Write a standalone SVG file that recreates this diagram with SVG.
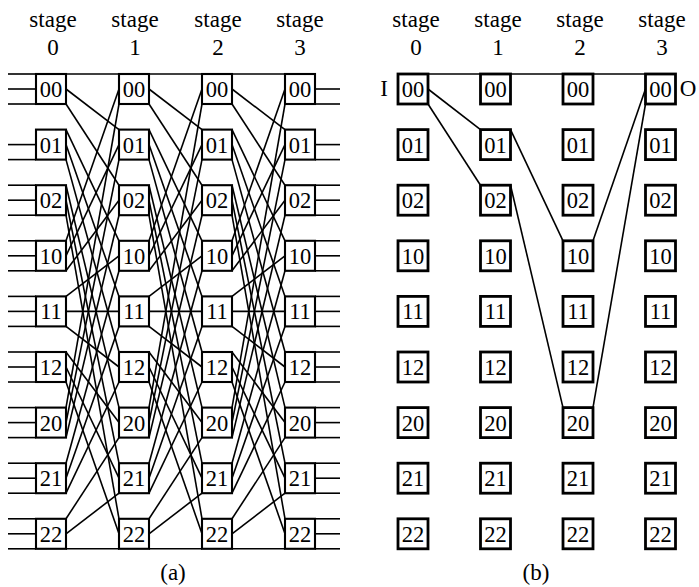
<svg xmlns="http://www.w3.org/2000/svg" width="699" height="587" viewBox="0 0 699 587">
<style>
.bx{fill:#fff;stroke:#000;stroke-width:2.1}
.bxb{fill:#fff;stroke:#000;stroke-width:2.8}
.lb{font-family:"Liberation Serif",serif;font-size:22.5px;text-anchor:middle;fill:#000}
.hd{font-family:"Liberation Serif",serif;font-size:23px;text-anchor:middle;fill:#000}
.ln{stroke:#000;stroke-width:1.6;fill:none}
</style>
<defs>
<g id="shuffle" class="ln">
<line x1="0" y1="74" x2="53" y2="74"/>
<line x1="0" y1="89" x2="53" y2="129.6"/>
<line x1="0" y1="104" x2="53" y2="185.2"/>
<line x1="0" y1="129.6" x2="53" y2="240.8"/>
<line x1="0" y1="144.6" x2="53" y2="296.4"/>
<line x1="0" y1="159.6" x2="53" y2="352"/>
<line x1="0" y1="185.2" x2="53" y2="407.6"/>
<line x1="0" y1="200.2" x2="53" y2="463.2"/>
<line x1="0" y1="215.2" x2="53" y2="518.8"/>
<line x1="0" y1="240.8" x2="53" y2="89"/>
<line x1="0" y1="255.8" x2="53" y2="144.6"/>
<line x1="0" y1="270.8" x2="53" y2="200.2"/>
<line x1="0" y1="296.4" x2="53" y2="255.8"/>
<line x1="0" y1="311.4" x2="53" y2="311.4"/>
<line x1="0" y1="326.4" x2="53" y2="367"/>
<line x1="0" y1="352" x2="53" y2="422.6"/>
<line x1="0" y1="367" x2="53" y2="478.2"/>
<line x1="0" y1="382" x2="53" y2="533.8"/>
<line x1="0" y1="407.6" x2="53" y2="104"/>
<line x1="0" y1="422.6" x2="53" y2="159.6"/>
<line x1="0" y1="437.6" x2="53" y2="215.2"/>
<line x1="0" y1="463.2" x2="53" y2="270.8"/>
<line x1="0" y1="478.2" x2="53" y2="326.4"/>
<line x1="0" y1="493.2" x2="53" y2="382"/>
<line x1="0" y1="518.8" x2="53" y2="437.6"/>
<line x1="0" y1="533.8" x2="53" y2="493.2"/>
<line x1="0" y1="548.8" x2="53" y2="548.8"/>
</g>
</defs>

<g id="headers">
<text class="hd" x="53" y="27">stage</text><text class="hd" x="53" y="55">0</text>
<text class="hd" x="135" y="27">stage</text><text class="hd" x="135" y="55">1</text>
<text class="hd" x="218" y="27">stage</text><text class="hd" x="218" y="55">2</text>
<text class="hd" x="300" y="27">stage</text><text class="hd" x="300" y="55">3</text>
<text class="hd" x="416" y="27">stage</text><text class="hd" x="416" y="55">0</text>
<text class="hd" x="498" y="27">stage</text><text class="hd" x="498" y="55">1</text>
<text class="hd" x="580" y="27">stage</text><text class="hd" x="580" y="55">2</text>
<text class="hd" x="662" y="27">stage</text><text class="hd" x="662" y="55">3</text>
<text class="hd" x="173" y="580">(a)</text>
<text class="hd" x="536" y="580">(b)</text>
<text class="hd" x="384" y="96">I</text>
<text class="hd" x="688" y="96">O</text>
</g>

<g id="connectors">
<use href="#shuffle" x="66"/>
<use href="#shuffle" x="149"/>
<use href="#shuffle" x="232"/>
<g class="ln">
<line x1="8" y1="74" x2="36" y2="74"/><line x1="8" y1="89" x2="36" y2="89"/><line x1="8" y1="104" x2="36" y2="104"/>
<line x1="8" y1="144.6" x2="36" y2="144.6"/><line x1="8" y1="159.6" x2="36" y2="159.6"/>
<line x1="8" y1="185.2" x2="36" y2="185.2"/><line x1="8" y1="200.2" x2="36" y2="200.2"/><line x1="8" y1="215.2" x2="36" y2="215.2"/>
<line x1="8" y1="240.8" x2="36" y2="240.8"/><line x1="8" y1="255.8" x2="36" y2="255.8"/><line x1="8" y1="270.8" x2="36" y2="270.8"/>
<line x1="8" y1="296.4" x2="36" y2="296.4"/><line x1="8" y1="311.4" x2="36" y2="311.4"/><line x1="8" y1="326.4" x2="36" y2="326.4"/>
<line x1="8" y1="352" x2="36" y2="352"/><line x1="8" y1="367" x2="36" y2="367"/><line x1="8" y1="382" x2="36" y2="382"/>
<line x1="8" y1="407.6" x2="36" y2="407.6"/><line x1="8" y1="422.6" x2="36" y2="422.6"/><line x1="8" y1="437.6" x2="36" y2="437.6"/>
<line x1="8" y1="463.2" x2="36" y2="463.2"/><line x1="8" y1="478.2" x2="36" y2="478.2"/><line x1="8" y1="493.2" x2="36" y2="493.2"/>
<line x1="8" y1="518.8" x2="36" y2="518.8"/><line x1="8" y1="533.8" x2="36" y2="533.8"/><line x1="8" y1="548.8" x2="36" y2="548.8"/>

<line x1="315" y1="89" x2="340" y2="89"/><line x1="315" y1="104" x2="340" y2="104"/>
<line x1="315" y1="144.6" x2="340" y2="144.6"/><line x1="315" y1="159.6" x2="340" y2="159.6"/>
<line x1="315" y1="185.2" x2="340" y2="185.2"/><line x1="315" y1="200.2" x2="340" y2="200.2"/><line x1="315" y1="215.2" x2="340" y2="215.2"/>
<line x1="315" y1="240.8" x2="340" y2="240.8"/><line x1="315" y1="255.8" x2="340" y2="255.8"/><line x1="315" y1="270.8" x2="340" y2="270.8"/>
<line x1="315" y1="296.4" x2="340" y2="296.4"/><line x1="315" y1="311.4" x2="340" y2="311.4"/><line x1="315" y1="326.4" x2="340" y2="326.4"/>
<line x1="315" y1="352" x2="340" y2="352"/><line x1="315" y1="367" x2="340" y2="367"/><line x1="315" y1="382" x2="340" y2="382"/>
<line x1="315" y1="407.6" x2="340" y2="407.6"/><line x1="315" y1="422.6" x2="340" y2="422.6"/><line x1="315" y1="437.6" x2="340" y2="437.6"/>
<line x1="315" y1="463.2" x2="340" y2="463.2"/><line x1="315" y1="478.2" x2="340" y2="478.2"/><line x1="315" y1="493.2" x2="340" y2="493.2"/>
<line x1="315" y1="518.8" x2="340" y2="518.8"/><line x1="315" y1="533.8" x2="340" y2="533.8"/><line x1="315" y1="548.8" x2="340" y2="548.8"/>

<line x1="428" y1="74" x2="645.5" y2="74"/>
<line x1="428" y1="89" x2="480.5" y2="129.6"/>
<line x1="428" y1="104" x2="480.5" y2="185.2"/>
<line x1="510.5" y1="129.6" x2="563" y2="240.8"/>
<line x1="510.5" y1="185.2" x2="563" y2="407.6"/>
<line x1="593" y1="240.8" x2="645.5" y2="89"/>
<line x1="593" y1="407.6" x2="645.5" y2="104"/>
</g>
</g>

<g id="nodes-a">
<g id="a0-00"><rect class="bx" x="36" y="74" width="30" height="30"/><text class="lb" x="51" y="97">00</text></g>
<g id="a0-01"><rect class="bx" x="36" y="129.6" width="30" height="30"/><text class="lb" x="51" y="152.6">01</text></g>
<g id="a0-02"><rect class="bx" x="36" y="185.2" width="30" height="30"/><text class="lb" x="51" y="208.2">02</text></g>
<g id="a0-10"><rect class="bx" x="36" y="240.8" width="30" height="30"/><text class="lb" x="51" y="263.8">10</text></g>
<g id="a0-11"><rect class="bx" x="36" y="296.4" width="30" height="30"/><text class="lb" x="51" y="319.4">11</text></g>
<g id="a0-12"><rect class="bx" x="36" y="352" width="30" height="30"/><text class="lb" x="51" y="375">12</text></g>
<g id="a0-20"><rect class="bx" x="36" y="407.6" width="30" height="30"/><text class="lb" x="51" y="430.6">20</text></g>
<g id="a0-21"><rect class="bx" x="36" y="463.2" width="30" height="30"/><text class="lb" x="51" y="486.2">21</text></g>
<g id="a0-22"><rect class="bx" x="36" y="518.8" width="30" height="30"/><text class="lb" x="51" y="541.8">22</text></g>

<g id="a1-00"><rect class="bx" x="119" y="74" width="30" height="30"/><text class="lb" x="134" y="97">00</text></g>
<g id="a1-01"><rect class="bx" x="119" y="129.6" width="30" height="30"/><text class="lb" x="134" y="152.6">01</text></g>
<g id="a1-02"><rect class="bx" x="119" y="185.2" width="30" height="30"/><text class="lb" x="134" y="208.2">02</text></g>
<g id="a1-10"><rect class="bx" x="119" y="240.8" width="30" height="30"/><text class="lb" x="134" y="263.8">10</text></g>
<g id="a1-11"><rect class="bx" x="119" y="296.4" width="30" height="30"/><text class="lb" x="134" y="319.4">11</text></g>
<g id="a1-12"><rect class="bx" x="119" y="352" width="30" height="30"/><text class="lb" x="134" y="375">12</text></g>
<g id="a1-20"><rect class="bx" x="119" y="407.6" width="30" height="30"/><text class="lb" x="134" y="430.6">20</text></g>
<g id="a1-21"><rect class="bx" x="119" y="463.2" width="30" height="30"/><text class="lb" x="134" y="486.2">21</text></g>
<g id="a1-22"><rect class="bx" x="119" y="518.8" width="30" height="30"/><text class="lb" x="134" y="541.8">22</text></g>

<g id="a2-00"><rect class="bx" x="202" y="74" width="30" height="30"/><text class="lb" x="217" y="97">00</text></g>
<g id="a2-01"><rect class="bx" x="202" y="129.6" width="30" height="30"/><text class="lb" x="217" y="152.6">01</text></g>
<g id="a2-02"><rect class="bx" x="202" y="185.2" width="30" height="30"/><text class="lb" x="217" y="208.2">02</text></g>
<g id="a2-10"><rect class="bx" x="202" y="240.8" width="30" height="30"/><text class="lb" x="217" y="263.8">10</text></g>
<g id="a2-11"><rect class="bx" x="202" y="296.4" width="30" height="30"/><text class="lb" x="217" y="319.4">11</text></g>
<g id="a2-12"><rect class="bx" x="202" y="352" width="30" height="30"/><text class="lb" x="217" y="375">12</text></g>
<g id="a2-20"><rect class="bx" x="202" y="407.6" width="30" height="30"/><text class="lb" x="217" y="430.6">20</text></g>
<g id="a2-21"><rect class="bx" x="202" y="463.2" width="30" height="30"/><text class="lb" x="217" y="486.2">21</text></g>
<g id="a2-22"><rect class="bx" x="202" y="518.8" width="30" height="30"/><text class="lb" x="217" y="541.8">22</text></g>

<g id="a3-00"><rect class="bx" x="285" y="74" width="30" height="30"/><text class="lb" x="300" y="97">00</text></g>
<g id="a3-01"><rect class="bx" x="285" y="129.6" width="30" height="30"/><text class="lb" x="300" y="152.6">01</text></g>
<g id="a3-02"><rect class="bx" x="285" y="185.2" width="30" height="30"/><text class="lb" x="300" y="208.2">02</text></g>
<g id="a3-10"><rect class="bx" x="285" y="240.8" width="30" height="30"/><text class="lb" x="300" y="263.8">10</text></g>
<g id="a3-11"><rect class="bx" x="285" y="296.4" width="30" height="30"/><text class="lb" x="300" y="319.4">11</text></g>
<g id="a3-12"><rect class="bx" x="285" y="352" width="30" height="30"/><text class="lb" x="300" y="375">12</text></g>
<g id="a3-20"><rect class="bx" x="285" y="407.6" width="30" height="30"/><text class="lb" x="300" y="430.6">20</text></g>
<g id="a3-21"><rect class="bx" x="285" y="463.2" width="30" height="30"/><text class="lb" x="300" y="486.2">21</text></g>
<g id="a3-22"><rect class="bx" x="285" y="518.8" width="30" height="30"/><text class="lb" x="300" y="541.8">22</text></g>
</g>

<g id="nodes-b">
<g id="b0-00"><rect class="bxb" x="398" y="74" width="30" height="30"/><text class="lb" x="413" y="97">00</text></g>
<g id="b0-01"><rect class="bxb" x="398" y="129.6" width="30" height="30"/><text class="lb" x="413" y="152.6">01</text></g>
<g id="b0-02"><rect class="bxb" x="398" y="185.2" width="30" height="30"/><text class="lb" x="413" y="208.2">02</text></g>
<g id="b0-10"><rect class="bxb" x="398" y="240.8" width="30" height="30"/><text class="lb" x="413" y="263.8">10</text></g>
<g id="b0-11"><rect class="bxb" x="398" y="296.4" width="30" height="30"/><text class="lb" x="413" y="319.4">11</text></g>
<g id="b0-12"><rect class="bxb" x="398" y="352" width="30" height="30"/><text class="lb" x="413" y="375">12</text></g>
<g id="b0-20"><rect class="bxb" x="398" y="407.6" width="30" height="30"/><text class="lb" x="413" y="430.6">20</text></g>
<g id="b0-21"><rect class="bxb" x="398" y="463.2" width="30" height="30"/><text class="lb" x="413" y="486.2">21</text></g>
<g id="b0-22"><rect class="bxb" x="398" y="518.8" width="30" height="30"/><text class="lb" x="413" y="541.8">22</text></g>

<g id="b1-00"><rect class="bxb" x="480.5" y="74" width="30" height="30"/><text class="lb" x="495.5" y="97">00</text></g>
<g id="b1-01"><rect class="bxb" x="480.5" y="129.6" width="30" height="30"/><text class="lb" x="495.5" y="152.6">01</text></g>
<g id="b1-02"><rect class="bxb" x="480.5" y="185.2" width="30" height="30"/><text class="lb" x="495.5" y="208.2">02</text></g>
<g id="b1-10"><rect class="bxb" x="480.5" y="240.8" width="30" height="30"/><text class="lb" x="495.5" y="263.8">10</text></g>
<g id="b1-11"><rect class="bxb" x="480.5" y="296.4" width="30" height="30"/><text class="lb" x="495.5" y="319.4">11</text></g>
<g id="b1-12"><rect class="bxb" x="480.5" y="352" width="30" height="30"/><text class="lb" x="495.5" y="375">12</text></g>
<g id="b1-20"><rect class="bxb" x="480.5" y="407.6" width="30" height="30"/><text class="lb" x="495.5" y="430.6">20</text></g>
<g id="b1-21"><rect class="bxb" x="480.5" y="463.2" width="30" height="30"/><text class="lb" x="495.5" y="486.2">21</text></g>
<g id="b1-22"><rect class="bxb" x="480.5" y="518.8" width="30" height="30"/><text class="lb" x="495.5" y="541.8">22</text></g>

<g id="b2-00"><rect class="bxb" x="563" y="74" width="30" height="30"/><text class="lb" x="578" y="97">00</text></g>
<g id="b2-01"><rect class="bxb" x="563" y="129.6" width="30" height="30"/><text class="lb" x="578" y="152.6">01</text></g>
<g id="b2-02"><rect class="bxb" x="563" y="185.2" width="30" height="30"/><text class="lb" x="578" y="208.2">02</text></g>
<g id="b2-10"><rect class="bxb" x="563" y="240.8" width="30" height="30"/><text class="lb" x="578" y="263.8">10</text></g>
<g id="b2-11"><rect class="bxb" x="563" y="296.4" width="30" height="30"/><text class="lb" x="578" y="319.4">11</text></g>
<g id="b2-12"><rect class="bxb" x="563" y="352" width="30" height="30"/><text class="lb" x="578" y="375">12</text></g>
<g id="b2-20"><rect class="bxb" x="563" y="407.6" width="30" height="30"/><text class="lb" x="578" y="430.6">20</text></g>
<g id="b2-21"><rect class="bxb" x="563" y="463.2" width="30" height="30"/><text class="lb" x="578" y="486.2">21</text></g>
<g id="b2-22"><rect class="bxb" x="563" y="518.8" width="30" height="30"/><text class="lb" x="578" y="541.8">22</text></g>

<g id="b3-00"><rect class="bxb" x="645.5" y="74" width="30" height="30"/><text class="lb" x="660.5" y="97">00</text></g>
<g id="b3-01"><rect class="bxb" x="645.5" y="129.6" width="30" height="30"/><text class="lb" x="660.5" y="152.6">01</text></g>
<g id="b3-02"><rect class="bxb" x="645.5" y="185.2" width="30" height="30"/><text class="lb" x="660.5" y="208.2">02</text></g>
<g id="b3-10"><rect class="bxb" x="645.5" y="240.8" width="30" height="30"/><text class="lb" x="660.5" y="263.8">10</text></g>
<g id="b3-11"><rect class="bxb" x="645.5" y="296.4" width="30" height="30"/><text class="lb" x="660.5" y="319.4">11</text></g>
<g id="b3-12"><rect class="bxb" x="645.5" y="352" width="30" height="30"/><text class="lb" x="660.5" y="375">12</text></g>
<g id="b3-20"><rect class="bxb" x="645.5" y="407.6" width="30" height="30"/><text class="lb" x="660.5" y="430.6">20</text></g>
<g id="b3-21"><rect class="bxb" x="645.5" y="463.2" width="30" height="30"/><text class="lb" x="660.5" y="486.2">21</text></g>
<g id="b3-22"><rect class="bxb" x="645.5" y="518.8" width="30" height="30"/><text class="lb" x="660.5" y="541.8">22</text></g>
</g>
</svg>
